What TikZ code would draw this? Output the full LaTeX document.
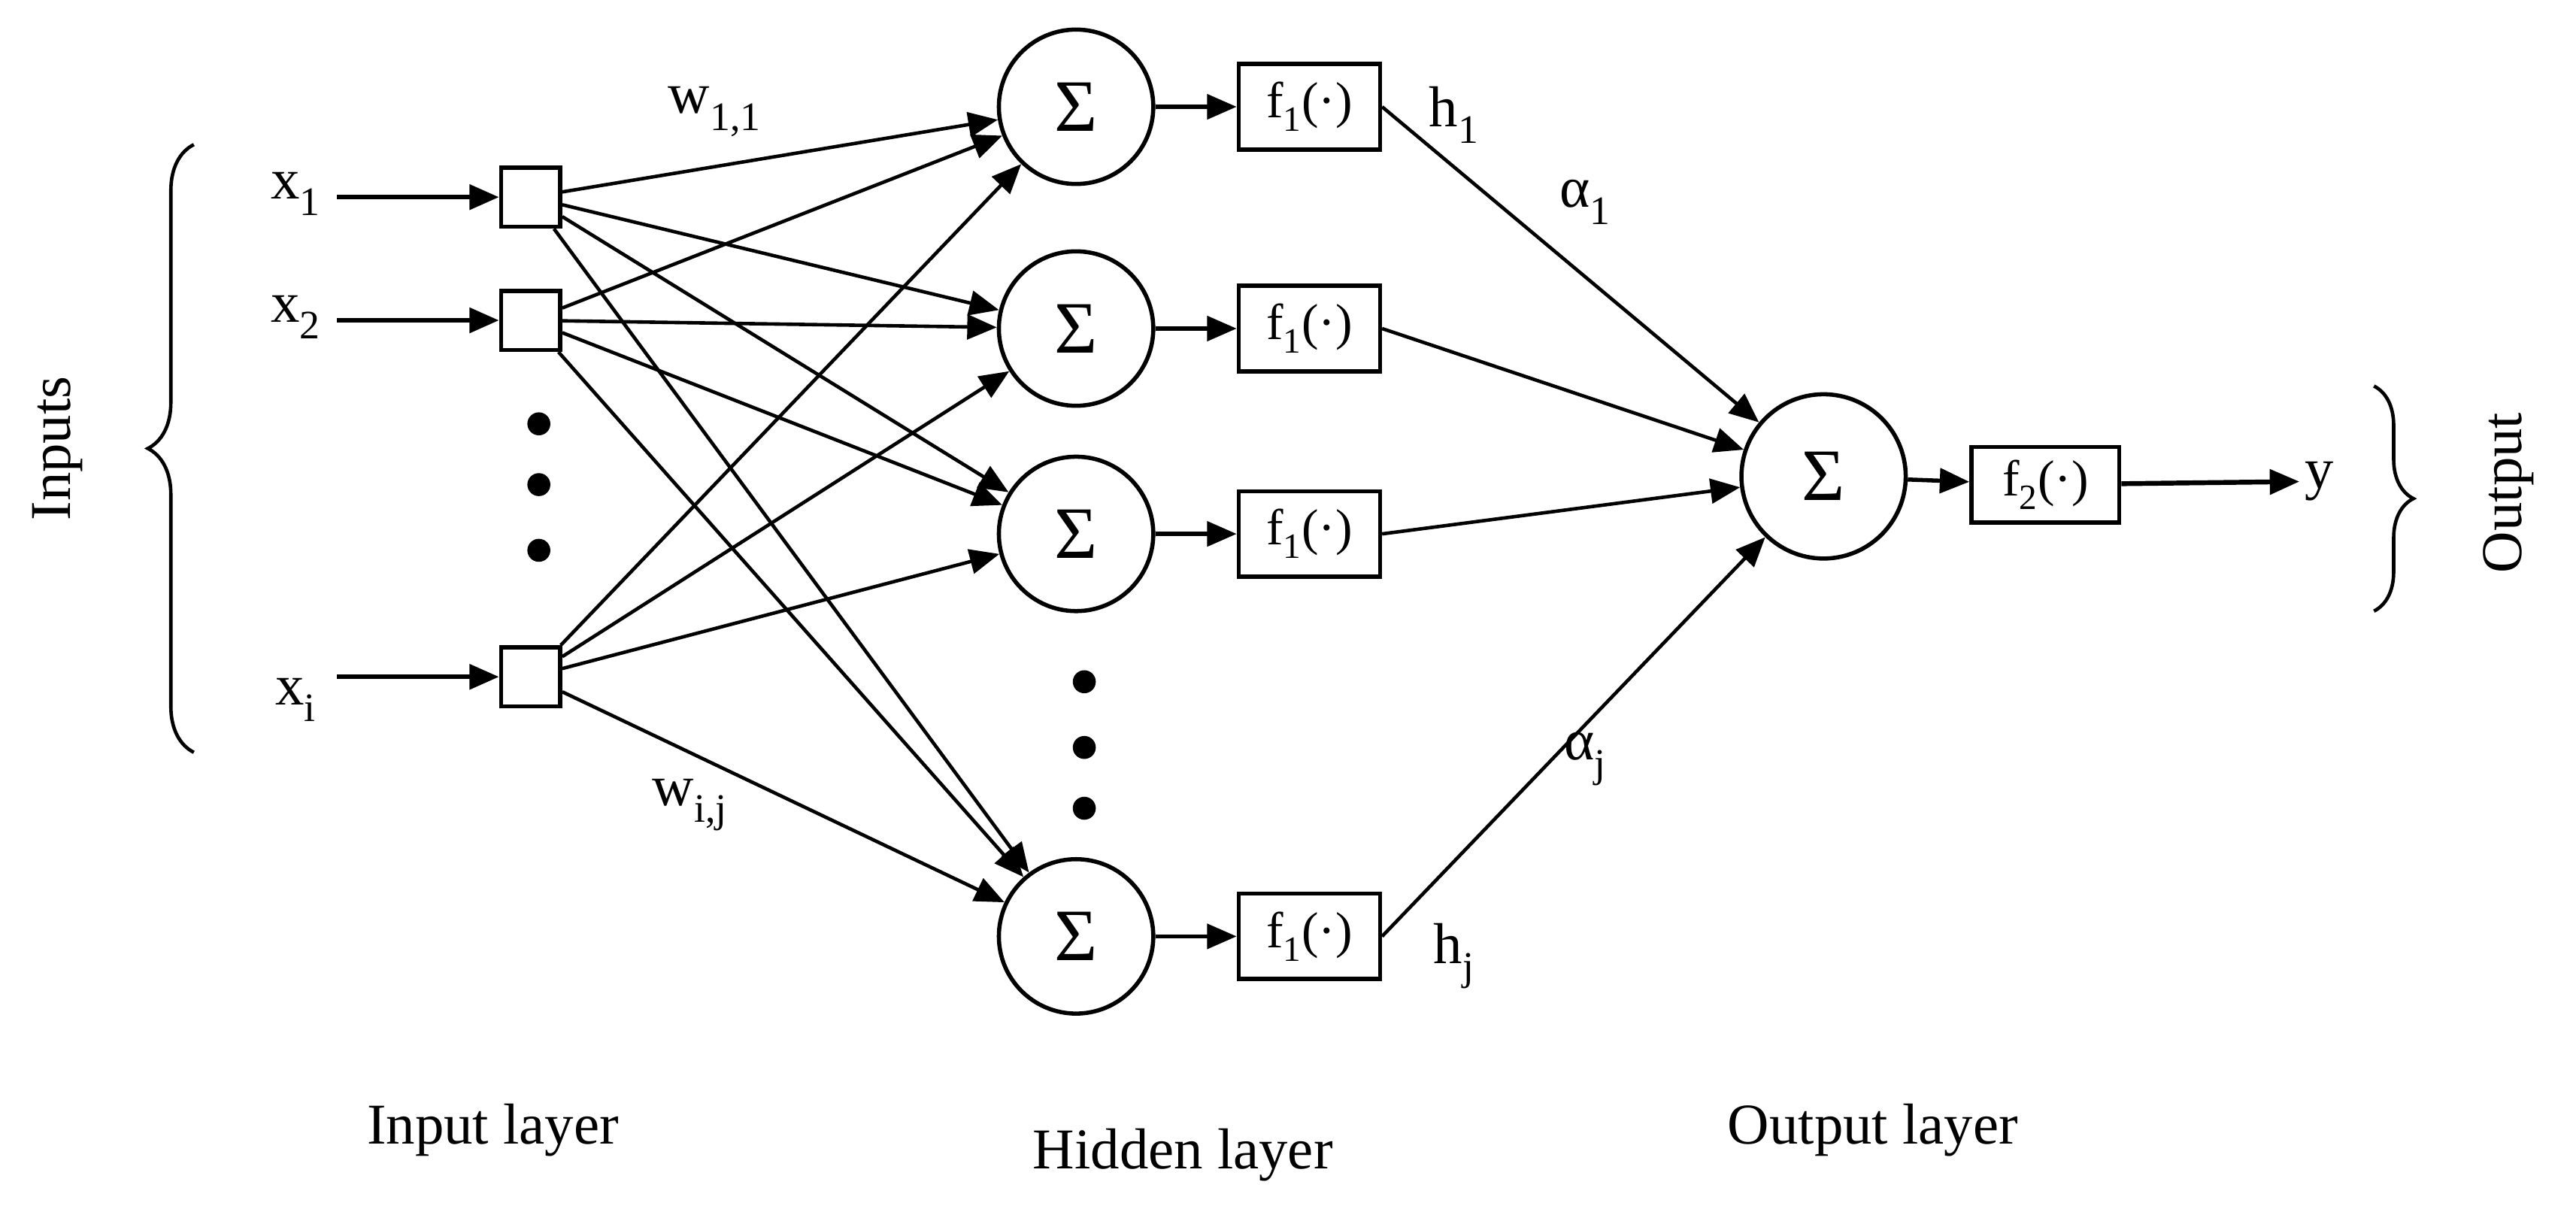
\documentclass[tikz,border=0pt]{standalone}
\usepackage{fontspec}
\setmainfont{Liberation Serif}
\usetikzlibrary{arrows.meta,decorations.pathreplacing}
\begin{document}
\begin{tikzpicture}[x=0.05cm,y=-0.05cm,line width=3.6pt,
  every node/.style={font=\fontsize{50}{56}\selectfont},
  sq/.style={draw,minimum size=1.8cm,inner sep=0},
  sig/.style={draw,circle,minimum size=4.7cm,inner sep=0,font=\fontsize{64}{70}\selectfont},
  fb/.style={draw,minimum width=4.3cm,minimum height=2.6cm,inner sep=0,font=\fontsize{44}{48}\selectfont},
  arr/.style={-{Triangle[length=0.9cm,width=0.75cm]}},
  dot/.style={circle,fill,minimum size=0.7cm,inner sep=0}]
\useasboundingbox (0,0) rectangle (1568,741);
% inputs
\node (x1) at (180,118) {x\textsubscript{1}};
\node (x2) at (180,193) {x\textsubscript{2}};
\node (xi) at (180,426) {x\textsubscript{i}};
\node[sq] (s1) at (323,120) {};
\node[sq] (s2) at (323,195) {};
\node[sq] (s3) at (323,412) {};
\draw[arr,line width=4.2pt] (205,120) -- (s1);
\draw[arr,line width=4.2pt] (205,195) -- (s2);
\draw[arr,line width=4.2pt] (205,412) -- (s3);
\node[dot] (d1) at (328,258) {};
\node[dot] (d2) at (328,295) {};
\node[dot] (d3) at (328,335) {};
% hidden
\foreach \i/\y in {1/65,2/200,3/325,4/570}{
  \node[sig] (h\i) at (655,\y) {Σ};
  \node[fb] (f\i) at (797,\y) {f\textsubscript{1}(·)};
  \draw[arr] (h\i) -- (f\i);
}
\node[dot] (e1) at (660,415) {};
\node[dot] (e2) at (660,455) {};
\node[dot] (e3) at (660,492) {};
\foreach \s in {s1,s2,s3}{
  \foreach \h in {h1,h2,h3,h4}{
    \draw[arr,line width=3pt] (\s) -- (\h);
  }
}
% output
\node[sig,minimum size=5cm] (o) at (1110,290) {Σ};
\foreach \i in {1,2,3,4}{\draw[arr,line width=3pt] (f\i.east) -- (o);}
\node[fb,minimum width=4.5cm,minimum height=2.3cm] (f5) at (1245,295) {f\textsubscript{2}(·)};
\draw[arr] (o) -- (f5);
\node (y) at (1412,293) {y};
\draw[arr,line width=4.2pt] (f5) -- (y);
% labels
\node at (435,68) {w\textsubscript{1,1}};
\node at (420,490) {w\textsubscript{i,j}};
\node at (885,70) {h\textsubscript{1}};
\node at (885,582) {h\textsubscript{j}};
\node at (965,123) {α\textsubscript{1}};
\node at (965,462) {α\textsubscript{j}};
\node at (300,688) {Input layer};
\node at (720,703) {Hidden layer};
\node at (1140,688) {Output layer};
% braces
\coordinate (b1) at (118,88); \coordinate (b2) at (118,458);
\draw[line width=3pt,decorate,decoration={brace,amplitude=1.4cm}] (b2) -- (b1);
\node[rotate=90] (inp) at (35,273) {Inputs};
\coordinate (c1) at (1445,235); \coordinate (c2) at (1445,372);
\draw[line width=3pt,decorate,decoration={brace,amplitude=1.2cm}] (c1) -- (c2);
\node[rotate=90] (out) at (1527,300) {Output};
\end{tikzpicture}
\end{document}
